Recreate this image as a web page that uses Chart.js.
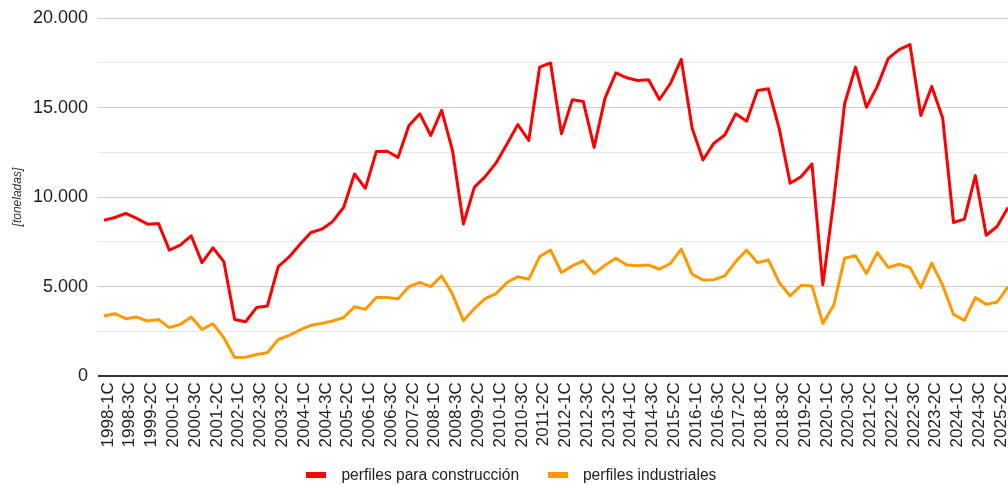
<!DOCTYPE html>
<html lang="es">
<head>
<meta charset="utf-8">
<script src="https://cdn.jsdelivr.net/npm/chart.js@4.4.1/dist/chart.umd.min.js"></script>
<style>
  html, body { margin: 0; padding: 0; background: #fff; overflow: hidden; }
  #wrap { width: 1008px; height: 486px; }
</style>
</head>
<body>
<div id="wrap"><canvas id="chart"></canvas></div>
<script>
"use strict";

// cuatrimestres 1998-1C .. 2025-3C
const periods = [
  '1998-1C', '1998-2C', '1998-3C',
  '1999-1C', '1999-2C', '1999-3C',
  '2000-1C', '2000-2C', '2000-3C',
  '2001-1C', '2001-2C', '2001-3C',
  '2002-1C', '2002-2C', '2002-3C',
  '2003-1C', '2003-2C', '2003-3C',
  '2004-1C', '2004-2C', '2004-3C',
  '2005-1C', '2005-2C', '2005-3C',
  '2006-1C', '2006-2C', '2006-3C',
  '2007-1C', '2007-2C', '2007-3C',
  '2008-1C', '2008-2C', '2008-3C',
  '2009-1C', '2009-2C', '2009-3C',
  '2010-1C', '2010-2C', '2010-3C',
  '2011-1C', '2011-2C', '2011-3C',
  '2012-1C', '2012-2C', '2012-3C',
  '2013-1C', '2013-2C', '2013-3C',
  '2014-1C', '2014-2C', '2014-3C',
  '2015-1C', '2015-2C', '2015-3C',
  '2016-1C', '2016-2C', '2016-3C',
  '2017-1C', '2017-2C', '2017-3C',
  '2018-1C', '2018-2C', '2018-3C',
  '2019-1C', '2019-2C', '2019-3C',
  '2020-1C', '2020-2C', '2020-3C',
  '2021-1C', '2021-2C', '2021-3C',
  '2022-1C', '2022-2C', '2022-3C',
  '2023-1C', '2023-2C', '2023-3C',
  '2024-1C', '2024-2C', '2024-3C',
  '2025-1C', '2025-2C', '2025-3C',
];

// toneladas
const construccion = [
  8710, 8860, 9090, 8810, 8490, 8530, 7040, 7320, 7840, 6340,
  7170, 6400, 3170, 3040, 3830, 3920, 6120, 6660, 7370, 8020,
  8210, 8640, 9420, 11290, 10490, 12540, 12560, 12220, 14000, 14650,
  13440, 14840, 12600, 8500, 10540, 11140, 11910, 12970, 14050, 13160,
  17260, 17490, 13530, 15430, 15340, 12780, 15530, 16940, 16660, 16510,
  16550, 15450, 16330, 17690, 13850, 12070, 13010, 13470, 14650, 14240,
  15950, 16050, 13810, 10770, 11140, 11850, 5100, 9800, 15210, 17260,
  15020, 16180, 17730, 18230, 18510, 14560, 16180, 14420, 8580, 8770,
  11200, 7870, 8360, 9420,
];

const industriales = [
  3360, 3490, 3210, 3300, 3080, 3170, 2710, 2890, 3300, 2610,
  2930, 2150, 1040, 1060, 1210, 1310, 2050, 2280, 2580, 2840,
  2950, 3080, 3270, 3880, 3730, 4390, 4390, 4330, 5000, 5230,
  5000, 5600, 4570, 3100, 3770, 4330, 4610, 5230, 5560, 5410,
  6680, 7040, 5790, 6160, 6440, 5730, 6200, 6590, 6210, 6160,
  6210, 5970, 6290, 7100, 5690, 5370, 5390, 5600, 6400, 7040,
  6340, 6490, 5230, 4480, 5080, 5040, 2950, 3960, 6590, 6720,
  5730, 6900, 6070, 6250, 6070, 4950, 6310, 5080, 3450, 3120,
  4390, 4010, 4140, 4980,
];

const seriesNames = ['perfiles para construcción', 'perfiles industriales'];
const seriesColors = ['#ff0000', '#ff9900'];

const FONT = 'Liberation Sans, Arial, sans-serif';
const LEGEND_BOX = 42; // reserved room before legend text; the bar itself is 20 wide

function miles(v) {
  return String(v).replace(/\B(?=(\d{3})+(?!\d))/g, '.');
}

function gridColor(ctx) {
  const v = ctx.tick.value;
  if (v === 0) return '#333333';
  return v % 5000 === 0 ? '#cccccc' : '#e6e6e6';
}

// legend swatches: flat 20x6 bars sitting 15px before the text
const legendBars = {
  id: 'legendBars',
  afterDraw(chart) {
    const ctx = chart.ctx;
    const half = 15.6 / 2;
    (chart.legend.legendHitBoxes || []).forEach((box, i) => {
      const x = box.left + LEGEND_BOX + half - 35;
      ctx.fillStyle = seriesColors[i];
      ctx.fillRect(Math.round(x), Math.round(box.top + (box.height - 6) / 2), 20, 6);
    });
  },
};

new Chart(document.getElementById('chart'), {
  type: 'line',
  data: {
    labels: periods,
    datasets: [
      {
        label: seriesNames[0],
        data: construccion,
        borderColor: seriesColors[0],
        backgroundColor: seriesColors[0],
      },
      {
        label: seriesNames[1],
        data: industriales,
        borderColor: seriesColors[1],
        backgroundColor: seriesColors[1],
      },
    ],
  },
  plugins: [legendBars],
  options: {
    responsive: true,
    maintainAspectRatio: false,
    animation: false,
    layout: { padding: { top: 18, right: 0, bottom: -7, left: 0 } },
    elements: {
      point: { radius: 0 },
      line: { borderWidth: 3, tension: 0, borderJoinStyle: 'round' },
    },
    plugins: {
      tooltip: { enabled: false },
      legend: {
        position: 'bottom',
        labels: {
          boxWidth: LEGEND_BOX,
          boxHeight: 6,
          padding: 14,
          color: '#222222',
          font: { family: FONT, size: 15.6 },
          generateLabels: (chart) =>
            Chart.defaults.plugins.legend.labels.generateLabels(chart).map((l) => ({
              ...l,
              fillStyle: 'rgba(0,0,0,0)',
              strokeStyle: 'rgba(0,0,0,0)',
              lineWidth: 0,
            })),
        },
      },
    },
    scales: {
      x: {
        offset: false,
        afterFit: (axis) => {
          axis.paddingRight = 0;
        },
        grid: { display: false, drawTicks: false },
        border: { display: false },
        ticks: {
          autoSkip: false,
          minRotation: 90,
          maxRotation: 90,
          padding: 6,
          labelOffset: 4,
          color: '#222222',
          font: { family: FONT, size: 17 },
          callback: (v, i) => (i % 2 === 0 ? periods[i] : ''),
        },
      },
      y: {
        min: 0,
        max: 20000,
        afterFit: (axis) => {
          axis.width = 104;
          axis.paddingTop = 0;
          axis.paddingBottom = 0;
        },
        border: { display: false },
        grid: {
          tickLength: 6,
          color: gridColor,
          lineWidth: (ctx) => (ctx.tick.value === 0 ? 2 : 1),
        },
        ticks: {
          stepSize: 2500,
          padding: 10,
          color: '#222222',
          font: { family: FONT, size: 18 },
          callback: (v) => (v % 5000 === 0 ? miles(v) : ''),
        },
        title: {
          display: true,
          text: '[toneladas]',
          color: '#333333',
          font: { family: FONT, size: 12, style: 'italic' },
          padding: { top: 10, bottom: 0 },
        },
      },
    },
  },
});
</script>
</body>
</html>
